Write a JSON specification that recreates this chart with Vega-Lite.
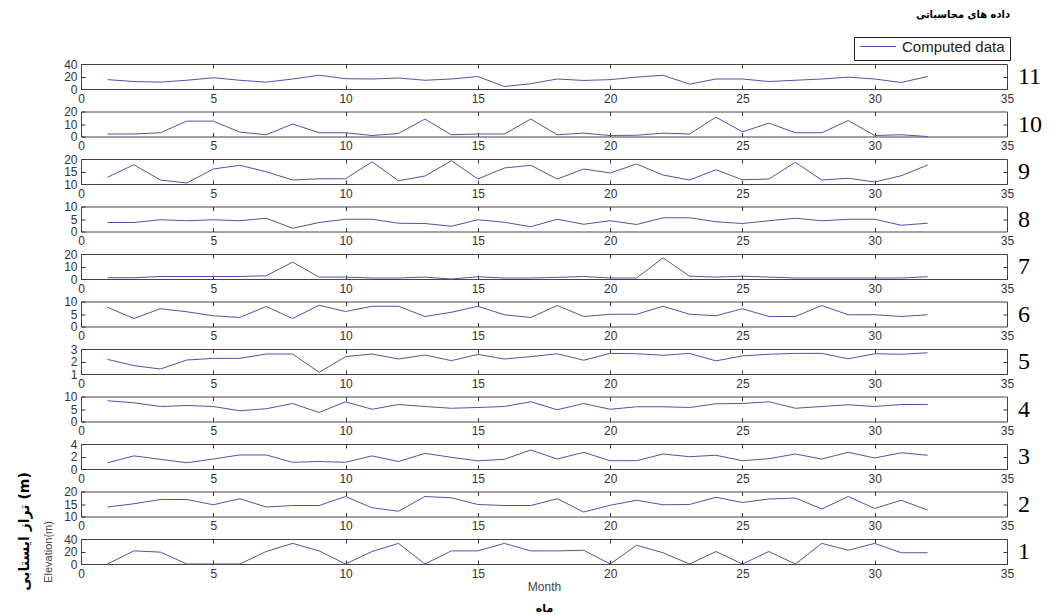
{
"$schema": "https://vega.github.io/schema/vega-lite/v6.json",
"padding": {"left": 16, "top": 8, "right": 5, "bottom": 5},
"title": {"text": "داده های محاسباتی", "anchor": "end", "font": "DejaVu Sans Condensed, DejaVu Sans", "fontSize": 11, "fontWeight": "bold", "color": "#000", "dx": -32, "offset": 17},
"data": {"values": [
{"s":11,"m":1,"v":15},{"s":11,"m":2,"v":12},{"s":11,"m":3,"v":11},{"s":11,"m":4,"v":14},{"s":11,"m":5,"v":18},{"s":11,"m":6,"v":14},{"s":11,"m":7,"v":11},{"s":11,"m":8,"v":16},{"s":11,"m":9,"v":22},{"s":11,"m":10,"v":16.5},{"s":11,"m":11,"v":16},{"s":11,"m":12,"v":17.6},{"s":11,"m":13,"v":14},{"s":11,"m":14,"v":16},{"s":11,"m":15,"v":20},{"s":11,"m":16,"v":4},{"s":11,"m":17,"v":8.5},{"s":11,"m":18,"v":16},{"s":11,"m":19,"v":13.7},{"s":11,"m":20,"v":15},{"s":11,"m":21,"v":19},{"s":11,"m":22,"v":22},{"s":11,"m":23,"v":7.7},{"s":11,"m":24,"v":16},{"s":11,"m":25,"v":16},{"s":11,"m":26,"v":12},{"s":11,"m":27,"v":14},{"s":11,"m":28,"v":16},{"s":11,"m":29,"v":19},{"s":11,"m":30,"v":16},{"s":11,"m":31,"v":10.4},{"s":11,"m":32,"v":20},
{"s":10,"m":1,"v":2},{"s":10,"m":2,"v":2},{"s":10,"m":3,"v":3},{"s":10,"m":4,"v":12.3},{"s":10,"m":5,"v":12.3},{"s":10,"m":6,"v":3.5},{"s":10,"m":7,"v":1.4},{"s":10,"m":8,"v":10},{"s":10,"m":9,"v":3},{"s":10,"m":10,"v":3},{"s":10,"m":11,"v":0.8},{"s":10,"m":12,"v":2.4},{"s":10,"m":13,"v":13.9},{"s":10,"m":14,"v":1.4},{"s":10,"m":15,"v":2},{"s":10,"m":16,"v":2},{"s":10,"m":17,"v":14},{"s":10,"m":18,"v":1.4},{"s":10,"m":19,"v":2.7},{"s":10,"m":20,"v":0.8},{"s":10,"m":21,"v":1},{"s":10,"m":22,"v":2.7},{"s":10,"m":23,"v":2},{"s":10,"m":24,"v":15.5},{"s":10,"m":25,"v":3.7},{"s":10,"m":26,"v":10.7},{"s":10,"m":27,"v":3},{"s":10,"m":28,"v":3},{"s":10,"m":29,"v":12.8},{"s":10,"m":30,"v":0.8},{"s":10,"m":31,"v":1.4},{"s":10,"m":32,"v":0},
{"s":9,"m":1,"v":12.7},{"s":9,"m":2,"v":17.7},{"s":9,"m":3,"v":11.6},{"s":9,"m":4,"v":10.4},{"s":9,"m":5,"v":16},{"s":9,"m":6,"v":17.5},{"s":9,"m":7,"v":14.9},{"s":9,"m":8,"v":11.6},{"s":9,"m":9,"v":12.1},{"s":9,"m":10,"v":12.1},{"s":9,"m":11,"v":18.9},{"s":9,"m":12,"v":11.3},{"s":9,"m":13,"v":13.2},{"s":9,"m":14,"v":19.3},{"s":9,"m":15,"v":12},{"s":9,"m":16,"v":16.4},{"s":9,"m":17,"v":17.5},{"s":9,"m":18,"v":12},{"s":9,"m":19,"v":16},{"s":9,"m":20,"v":14.4},{"s":9,"m":21,"v":18},{"s":9,"m":22,"v":13.6},{"s":9,"m":23,"v":11.6},{"s":9,"m":24,"v":15.7},{"s":9,"m":25,"v":11.7},{"s":9,"m":26,"v":12},{"s":9,"m":27,"v":18.7},{"s":9,"m":28,"v":11.6},{"s":9,"m":29,"v":12.3},{"s":9,"m":30,"v":10.8},{"s":9,"m":31,"v":13.3},{"s":9,"m":32,"v":17.6},
{"s":8,"m":1,"v":3.6},{"s":8,"m":2,"v":3.6},{"s":8,"m":3,"v":4.7},{"s":8,"m":4,"v":4.3},{"s":8,"m":5,"v":4.7},{"s":8,"m":6,"v":4.3},{"s":8,"m":7,"v":5.3},{"s":8,"m":8,"v":1.3},{"s":8,"m":9,"v":3.6},{"s":8,"m":10,"v":4.9},{"s":8,"m":11,"v":4.9},{"s":8,"m":12,"v":3.3},{"s":8,"m":13,"v":3.2},{"s":8,"m":14,"v":2.1},{"s":8,"m":15,"v":4.7},{"s":8,"m":16,"v":3.7},{"s":8,"m":17,"v":1.9},{"s":8,"m":18,"v":4.9},{"s":8,"m":19,"v":2.9},{"s":8,"m":20,"v":4.3},{"s":8,"m":21,"v":2.8},{"s":8,"m":22,"v":5.5},{"s":8,"m":23,"v":5.5},{"s":8,"m":24,"v":3.9},{"s":8,"m":25,"v":3.2},{"s":8,"m":26,"v":4.3},{"s":8,"m":27,"v":5.3},{"s":8,"m":28,"v":4.3},{"s":8,"m":29,"v":4.9},{"s":8,"m":30,"v":4.9},{"s":8,"m":31,"v":2.5},{"s":8,"m":32,"v":3.3},
{"s":7,"m":1,"v":1},{"s":7,"m":2,"v":1},{"s":7,"m":3,"v":2},{"s":7,"m":4,"v":2},{"s":7,"m":5,"v":2},{"s":7,"m":6,"v":2},{"s":7,"m":7,"v":2.6},{"s":7,"m":8,"v":13.5},{"s":7,"m":9,"v":1.5},{"s":7,"m":10,"v":1.5},{"s":7,"m":11,"v":0.8},{"s":7,"m":12,"v":0.8},{"s":7,"m":13,"v":1.5},{"s":7,"m":14,"v":0},{"s":7,"m":15,"v":1.8},{"s":7,"m":16,"v":0.8},{"s":7,"m":17,"v":0.8},{"s":7,"m":18,"v":1.3},{"s":7,"m":19,"v":2},{"s":7,"m":20,"v":0.8},{"s":7,"m":21,"v":0.8},{"s":7,"m":22,"v":16.9},{"s":7,"m":23,"v":2.3},{"s":7,"m":24,"v":1.5},{"s":7,"m":25,"v":2.3},{"s":7,"m":26,"v":1.5},{"s":7,"m":27,"v":0.8},{"s":7,"m":28,"v":0.8},{"s":7,"m":29,"v":0.8},{"s":7,"m":30,"v":0.8},{"s":7,"m":31,"v":0.8},{"s":7,"m":32,"v":1.8},
{"s":6,"m":1,"v":7.7},{"s":6,"m":2,"v":3.2},{"s":6,"m":3,"v":7.1},{"s":6,"m":4,"v":5.9},{"s":6,"m":5,"v":4.3},{"s":6,"m":6,"v":3.6},{"s":6,"m":7,"v":8},{"s":6,"m":8,"v":3.2},{"s":6,"m":9,"v":8.5},{"s":6,"m":10,"v":6},{"s":6,"m":11,"v":8.1},{"s":6,"m":12,"v":8.1},{"s":6,"m":13,"v":4},{"s":6,"m":14,"v":5.7},{"s":6,"m":15,"v":8.1},{"s":6,"m":16,"v":4.7},{"s":6,"m":17,"v":3.6},{"s":6,"m":18,"v":8.4},{"s":6,"m":19,"v":4},{"s":6,"m":20,"v":4.9},{"s":6,"m":21,"v":4.9},{"s":6,"m":22,"v":8.1},{"s":6,"m":23,"v":4.9},{"s":6,"m":24,"v":4.3},{"s":6,"m":25,"v":7.1},{"s":6,"m":26,"v":4},{"s":6,"m":27,"v":4},{"s":6,"m":28,"v":8.4},{"s":6,"m":29,"v":4.7},{"s":6,"m":30,"v":4.7},{"s":6,"m":31,"v":4},{"s":6,"m":32,"v":4.7},
{"s":5,"m":1,"v":2.17},{"s":5,"m":2,"v":1.67},{"s":5,"m":3,"v":1.4},{"s":5,"m":4,"v":2.12},{"s":5,"m":5,"v":2.25},{"s":5,"m":6,"v":2.25},{"s":5,"m":7,"v":2.6},{"s":5,"m":8,"v":2.6},{"s":5,"m":9,"v":1.13},{"s":5,"m":10,"v":2.39},{"s":5,"m":11,"v":2.6},{"s":5,"m":12,"v":2.2},{"s":5,"m":13,"v":2.52},{"s":5,"m":14,"v":2.07},{"s":5,"m":15,"v":2.57},{"s":5,"m":16,"v":2.2},{"s":5,"m":17,"v":2.39},{"s":5,"m":18,"v":2.62},{"s":5,"m":19,"v":2.1},{"s":5,"m":20,"v":2.65},{"s":5,"m":21,"v":2.62},{"s":5,"m":22,"v":2.5},{"s":5,"m":23,"v":2.65},{"s":5,"m":24,"v":2.05},{"s":5,"m":25,"v":2.45},{"s":5,"m":26,"v":2.58},{"s":5,"m":27,"v":2.65},{"s":5,"m":28,"v":2.65},{"s":5,"m":29,"v":2.22},{"s":5,"m":30,"v":2.62},{"s":5,"m":31,"v":2.58},{"s":5,"m":32,"v":2.7},
{"s":4,"m":1,"v":8.3},{"s":4,"m":2,"v":7.5},{"s":4,"m":3,"v":6},{"s":4,"m":4,"v":6.4},{"s":4,"m":5,"v":6},{"s":4,"m":6,"v":4.3},{"s":4,"m":7,"v":5.1},{"s":4,"m":8,"v":7.2},{"s":4,"m":9,"v":3.6},{"s":4,"m":10,"v":7.9},{"s":4,"m":11,"v":4.9},{"s":4,"m":12,"v":6.8},{"s":4,"m":13,"v":6},{"s":4,"m":14,"v":5.3},{"s":4,"m":15,"v":5.6},{"s":4,"m":16,"v":6},{"s":4,"m":17,"v":7.9},{"s":4,"m":18,"v":4.7},{"s":4,"m":19,"v":7.2},{"s":4,"m":20,"v":4.9},{"s":4,"m":21,"v":5.9},{"s":4,"m":22,"v":5.9},{"s":4,"m":23,"v":5.6},{"s":4,"m":24,"v":7.1},{"s":4,"m":25,"v":7.2},{"s":4,"m":26,"v":7.9},{"s":4,"m":27,"v":5.3},{"s":4,"m":28,"v":6},{"s":4,"m":29,"v":6.7},{"s":4,"m":30,"v":6},{"s":4,"m":31,"v":6.8},{"s":4,"m":32,"v":6.8},
{"s":3,"m":1,"v":1},{"s":3,"m":2,"v":2.1},{"s":3,"m":3,"v":1.55},{"s":3,"m":4,"v":1},{"s":3,"m":5,"v":1.6},{"s":3,"m":6,"v":2.25},{"s":3,"m":7,"v":2.25},{"s":3,"m":8,"v":1.07},{"s":3,"m":9,"v":1.2},{"s":3,"m":10,"v":1.07},{"s":3,"m":11,"v":2.1},{"s":3,"m":12,"v":1.2},{"s":3,"m":13,"v":2.5},{"s":3,"m":14,"v":1.87},{"s":3,"m":15,"v":1.3},{"s":3,"m":16,"v":1.55},{"s":3,"m":17,"v":3.04},{"s":3,"m":18,"v":1.6},{"s":3,"m":19,"v":2.67},{"s":3,"m":20,"v":1.33},{"s":3,"m":21,"v":1.33},{"s":3,"m":22,"v":2.4},{"s":3,"m":23,"v":1.97},{"s":3,"m":24,"v":2.2},{"s":3,"m":25,"v":1.33},{"s":3,"m":26,"v":1.65},{"s":3,"m":27,"v":2.4},{"s":3,"m":28,"v":1.6},{"s":3,"m":29,"v":2.67},{"s":3,"m":30,"v":1.76},{"s":3,"m":31,"v":2.6},{"s":3,"m":32,"v":2.2},
{"s":2,"m":1,"v":13.8},{"s":2,"m":2,"v":15.1},{"s":2,"m":3,"v":16.8},{"s":2,"m":4,"v":16.8},{"s":2,"m":5,"v":14.7},{"s":2,"m":6,"v":17.1},{"s":2,"m":7,"v":13.8},{"s":2,"m":8,"v":14.4},{"s":2,"m":9,"v":14.4},{"s":2,"m":10,"v":18},{"s":2,"m":11,"v":13.5},{"s":2,"m":12,"v":12.1},{"s":2,"m":13,"v":18},{"s":2,"m":14,"v":17.5},{"s":2,"m":15,"v":14.8},{"s":2,"m":16,"v":14.4},{"s":2,"m":17,"v":14.4},{"s":2,"m":18,"v":17.1},{"s":2,"m":19,"v":11.8},{"s":2,"m":20,"v":14.5},{"s":2,"m":21,"v":16.5},{"s":2,"m":22,"v":14.7},{"s":2,"m":23,"v":14.8},{"s":2,"m":24,"v":17.7},{"s":2,"m":25,"v":15.6},{"s":2,"m":26,"v":17},{"s":2,"m":27,"v":17.4},{"s":2,"m":28,"v":13},{"s":2,"m":29,"v":18},{"s":2,"m":30,"v":13.2},{"s":2,"m":31,"v":16.5},{"s":2,"m":32,"v":12.6},
{"s":1,"m":1,"v":0},{"s":1,"m":2,"v":21},{"s":1,"m":3,"v":19},{"s":1,"m":4,"v":0},{"s":1,"m":5,"v":0},{"s":1,"m":6,"v":0},{"s":1,"m":7,"v":20},{"s":1,"m":8,"v":33},{"s":1,"m":9,"v":21},{"s":1,"m":10,"v":0},{"s":1,"m":11,"v":20},{"s":1,"m":12,"v":33},{"s":1,"m":13,"v":0},{"s":1,"m":14,"v":21},{"s":1,"m":15,"v":21},{"s":1,"m":16,"v":33},{"s":1,"m":17,"v":21},{"s":1,"m":18,"v":21},{"s":1,"m":19,"v":22},{"s":1,"m":20,"v":0},{"s":1,"m":21,"v":30},{"s":1,"m":22,"v":18},{"s":1,"m":23,"v":0},{"s":1,"m":24,"v":20},{"s":1,"m":25,"v":0},{"s":1,"m":26,"v":20},{"s":1,"m":27,"v":0},{"s":1,"m":28,"v":33},{"s":1,"m":29,"v":22},{"s":1,"m":30,"v":33},{"s":1,"m":31,"v":18},{"s":1,"m":32,"v":18}
]},
"vconcat": [
{"width": 926, "height": 25, "transform": [{"filter": "datum.s == 11"}],
 "layer": [
  {"mark": "line", "encoding": {
    "x": {"field": "m", "type": "quantitative", "scale": {"domain": [0, 35]}, "axis": {"orient": "bottom", "values": [0,5,10,15,20,25,30,35], "title": null}},
    "y": {"field": "v", "type": "quantitative", "scale": {"domain": [0, 40]}, "axis": {"orient": "left", "values": [0,20,40], "title": null}},
    "color": {"datum": "Computed data", "scale": {"range": ["#5252a3"]}, "legend": {"orient": "none", "legendX": 773, "legendY": -27, "title": null, "strokeColor": "#222", "padding": 5, "clipHeight": 9, "symbolSize": 1300, "symbolStrokeWidth": 1, "labelFont": "Liberation Sans", "labelFontSize": 15, "labelColor": "#222", "labelOffset": 5}}}},
  {"mark": {"type": "line", "opacity": 0}, "encoding": {
    "x": {"field": "m", "type": "quantitative", "axis": {"orient": "top", "values": [5,10,15,20,25,30], "labels": false, "title": null}},
    "y": {"field": "v", "type": "quantitative", "axis": {"orient": "right", "values": [20], "labels": false, "title": "11"}}}}
 ],
 "resolve": {"axis": {"x": "independent", "y": "independent"}}},
{"width": 926, "height": 25, "transform": [{"filter": "datum.s == 10"}],
 "layer": [
  {"mark": "line", "encoding": {
    "x": {"field": "m", "type": "quantitative", "scale": {"domain": [0, 35]}, "axis": {"orient": "bottom", "values": [0,5,10,15,20,25,30,35], "title": null}},
    "y": {"field": "v", "type": "quantitative", "scale": {"domain": [0, 20]}, "axis": {"orient": "left", "values": [0,10,20], "title": null}}}},
  {"mark": {"type": "line", "opacity": 0}, "encoding": {
    "x": {"field": "m", "type": "quantitative", "axis": {"orient": "top", "values": [5,10,15,20,25,30], "labels": false, "title": null}},
    "y": {"field": "v", "type": "quantitative", "axis": {"orient": "right", "values": [10], "labels": false, "title": "10"}}}}
 ],
 "resolve": {"axis": {"x": "independent", "y": "independent"}}},
{"width": 926, "height": 25, "transform": [{"filter": "datum.s == 9"}],
 "layer": [
  {"mark": "line", "encoding": {
    "x": {"field": "m", "type": "quantitative", "scale": {"domain": [0, 35]}, "axis": {"orient": "bottom", "values": [0,5,10,15,20,25,30,35], "title": null}},
    "y": {"field": "v", "type": "quantitative", "scale": {"domain": [10, 20]}, "axis": {"orient": "left", "values": [10,15,20], "title": null}}}},
  {"mark": {"type": "line", "opacity": 0}, "encoding": {
    "x": {"field": "m", "type": "quantitative", "axis": {"orient": "top", "values": [5,10,15,20,25,30], "labels": false, "title": null}},
    "y": {"field": "v", "type": "quantitative", "axis": {"orient": "right", "values": [15], "labels": false, "title": "9"}}}}
 ],
 "resolve": {"axis": {"x": "independent", "y": "independent"}}},
{"width": 926, "height": 25, "transform": [{"filter": "datum.s == 8"}],
 "layer": [
  {"mark": "line", "encoding": {
    "x": {"field": "m", "type": "quantitative", "scale": {"domain": [0, 35]}, "axis": {"orient": "bottom", "values": [0,5,10,15,20,25,30,35], "title": null}},
    "y": {"field": "v", "type": "quantitative", "scale": {"domain": [0, 10]}, "axis": {"orient": "left", "values": [0,5,10], "title": null}}}},
  {"mark": {"type": "line", "opacity": 0}, "encoding": {
    "x": {"field": "m", "type": "quantitative", "axis": {"orient": "top", "values": [5,10,15,20,25,30], "labels": false, "title": null}},
    "y": {"field": "v", "type": "quantitative", "axis": {"orient": "right", "values": [5], "labels": false, "title": "8"}}}}
 ],
 "resolve": {"axis": {"x": "independent", "y": "independent"}}},
{"width": 926, "height": 25, "transform": [{"filter": "datum.s == 7"}],
 "layer": [
  {"mark": "line", "encoding": {
    "x": {"field": "m", "type": "quantitative", "scale": {"domain": [0, 35]}, "axis": {"orient": "bottom", "values": [0,5,10,15,20,25,30,35], "title": null}},
    "y": {"field": "v", "type": "quantitative", "scale": {"domain": [0, 20]}, "axis": {"orient": "left", "values": [0,10,20], "title": null}}}},
  {"mark": {"type": "line", "opacity": 0}, "encoding": {
    "x": {"field": "m", "type": "quantitative", "axis": {"orient": "top", "values": [5,10,15,20,25,30], "labels": false, "title": null}},
    "y": {"field": "v", "type": "quantitative", "axis": {"orient": "right", "values": [10], "labels": false, "title": "7"}}}}
 ],
 "resolve": {"axis": {"x": "independent", "y": "independent"}}},
{"width": 926, "height": 25, "transform": [{"filter": "datum.s == 6"}],
 "layer": [
  {"mark": "line", "encoding": {
    "x": {"field": "m", "type": "quantitative", "scale": {"domain": [0, 35]}, "axis": {"orient": "bottom", "values": [0,5,10,15,20,25,30,35], "title": null}},
    "y": {"field": "v", "type": "quantitative", "scale": {"domain": [0, 10]}, "axis": {"orient": "left", "values": [0,5,10], "title": null}}}},
  {"mark": {"type": "line", "opacity": 0}, "encoding": {
    "x": {"field": "m", "type": "quantitative", "axis": {"orient": "top", "values": [5,10,15,20,25,30], "labels": false, "title": null}},
    "y": {"field": "v", "type": "quantitative", "axis": {"orient": "right", "values": [5], "labels": false, "title": "6"}}}}
 ],
 "resolve": {"axis": {"x": "independent", "y": "independent"}}},
{"width": 926, "height": 25, "transform": [{"filter": "datum.s == 5"}],
 "layer": [
  {"mark": "line", "encoding": {
    "x": {"field": "m", "type": "quantitative", "scale": {"domain": [0, 35]}, "axis": {"orient": "bottom", "values": [0,5,10,15,20,25,30,35], "title": null}},
    "y": {"field": "v", "type": "quantitative", "scale": {"domain": [1, 3], "zero": false}, "axis": {"orient": "left", "values": [1,2,3], "title": null}}}},
  {"mark": {"type": "line", "opacity": 0}, "encoding": {
    "x": {"field": "m", "type": "quantitative", "axis": {"orient": "top", "values": [5,10,15,20,25,30], "labels": false, "title": null}},
    "y": {"field": "v", "type": "quantitative", "axis": {"orient": "right", "values": [2], "labels": false, "title": "5"}}}}
 ],
 "resolve": {"axis": {"x": "independent", "y": "independent"}}},
{"width": 926, "height": 25, "transform": [{"filter": "datum.s == 4"}],
 "layer": [
  {"mark": "line", "encoding": {
    "x": {"field": "m", "type": "quantitative", "scale": {"domain": [0, 35]}, "axis": {"orient": "bottom", "values": [0,5,10,15,20,25,30,35], "title": null}},
    "y": {"field": "v", "type": "quantitative", "scale": {"domain": [0, 10]}, "axis": {"orient": "left", "values": [0,5,10], "title": null}}}},
  {"mark": {"type": "line", "opacity": 0}, "encoding": {
    "x": {"field": "m", "type": "quantitative", "axis": {"orient": "top", "values": [5,10,15,20,25,30], "labels": false, "title": null}},
    "y": {"field": "v", "type": "quantitative", "axis": {"orient": "right", "values": [5], "labels": false, "title": "4"}}}}
 ],
 "resolve": {"axis": {"x": "independent", "y": "independent"}}},
{"width": 926, "height": 25, "transform": [{"filter": "datum.s == 3"}],
 "layer": [
  {"mark": "line", "encoding": {
    "x": {"field": "m", "type": "quantitative", "scale": {"domain": [0, 35]}, "axis": {"orient": "bottom", "values": [0,5,10,15,20,25,30,35], "title": null}},
    "y": {"field": "v", "type": "quantitative", "scale": {"domain": [0, 4]}, "axis": {"orient": "left", "values": [0,2,4], "title": null}}}},
  {"mark": {"type": "line", "opacity": 0}, "encoding": {
    "x": {"field": "m", "type": "quantitative", "axis": {"orient": "top", "values": [5,10,15,20,25,30], "labels": false, "title": null}},
    "y": {"field": "v", "type": "quantitative", "axis": {"orient": "right", "values": [2], "labels": false, "title": "3"}}}}
 ],
 "resolve": {"axis": {"x": "independent", "y": "independent"}}},
{"width": 926, "height": 25, "transform": [{"filter": "datum.s == 2"}],
 "layer": [
  {"mark": "line", "encoding": {
    "x": {"field": "m", "type": "quantitative", "scale": {"domain": [0, 35]}, "axis": {"orient": "bottom", "values": [0,5,10,15,20,25,30,35], "title": null}},
    "y": {"field": "v", "type": "quantitative", "scale": {"domain": [10, 20]}, "axis": {"orient": "left", "values": [10,15,20], "title": null}}}},
  {"mark": {"type": "line", "opacity": 0}, "encoding": {
    "x": {"field": "m", "type": "quantitative", "axis": {"orient": "top", "values": [5,10,15,20,25,30], "labels": false, "title": null}},
    "y": {"field": "v", "type": "quantitative", "axis": {"orient": "right", "values": [15], "labels": false, "title": "2"}}}}
 ],
 "resolve": {"axis": {"x": "independent", "y": "independent"}}},
{"width": 926, "height": 25, "transform": [{"filter": "datum.s == 1"}],
 "layer": [
  {"mark": "line", "encoding": {
    "x": {"field": "m", "type": "quantitative", "scale": {"domain": [0, 35]}, "axis": {"orient": "bottom", "values": [0,5,10,15,20,25,30,35], "title": "Month", "titlePadding": 2}},
    "y": {"field": "v", "type": "quantitative", "scale": {"domain": [0, 40]}, "axis": {"orient": "left", "values": [0,20,40], "title": "Elevation(m)", "titleFontSize": 11, "titlePadding": 10}}}},
  {"mark": {"type": "line", "opacity": 0}, "encoding": {
    "x": {"field": "m", "type": "quantitative", "axis": {"orient": "top", "values": [5,10,15,20,25,30], "labels": false, "title": null}},
    "y": {"field": "v", "type": "quantitative", "axis": {"orient": "right", "values": [20], "labels": false, "title": "1"}}}},
  {"mark": {"type": "line", "opacity": 0}, "encoding": {
    "x": {"field": "m", "type": "quantitative", "axis": {"orient": "bottom", "ticks": false, "labels": false, "offset": 38, "title": "ماه", "titleFont": "DejaVu Sans", "titleFontWeight": "bold", "titleColor": "#000", "titleFontSize": 11, "titlePadding": 0}},
    "y": {"field": "v", "type": "quantitative", "axis": {"orient": "left", "ticks": false, "labels": false, "offset": 50, "title": "تراز ایستابی (m)", "titleY": -8, "titleFont": "DejaVu Sans", "titleFontWeight": "bold", "titleColor": "#000", "titleFontSize": 14, "titlePadding": 0}}}}
 ],
 "resolve": {"axis": {"x": "independent", "y": "independent"}}}
],
"spacing": 22.5,
"bounds": "flush",
"config": {
  "view": {"stroke": "#444", "strokeWidth": 1},
  "line": {"color": "#5252a3", "strokeWidth": 1},
  "axis": {"grid": false, "domain": false, "tickSize": -4, "tickColor": "#333", "labelFont": "Liberation Sans", "labelFontSize": 12, "labelColor": "#333", "labelFlush": false, "labelPadding": 8, "format": "d", "titleFont": "Liberation Sans", "titleFontWeight": "normal", "titleColor": "#444", "titleFontSize": 12},
  "axisRight": {"titleAngle": 0, "titleFont": "Liberation Serif", "titleFontSize": 24, "titleColor": "#000", "titleAlign": "left", "titleBaseline": "middle", "titlePadding": 10, "titleFontWeight": "normal"}
}
}
